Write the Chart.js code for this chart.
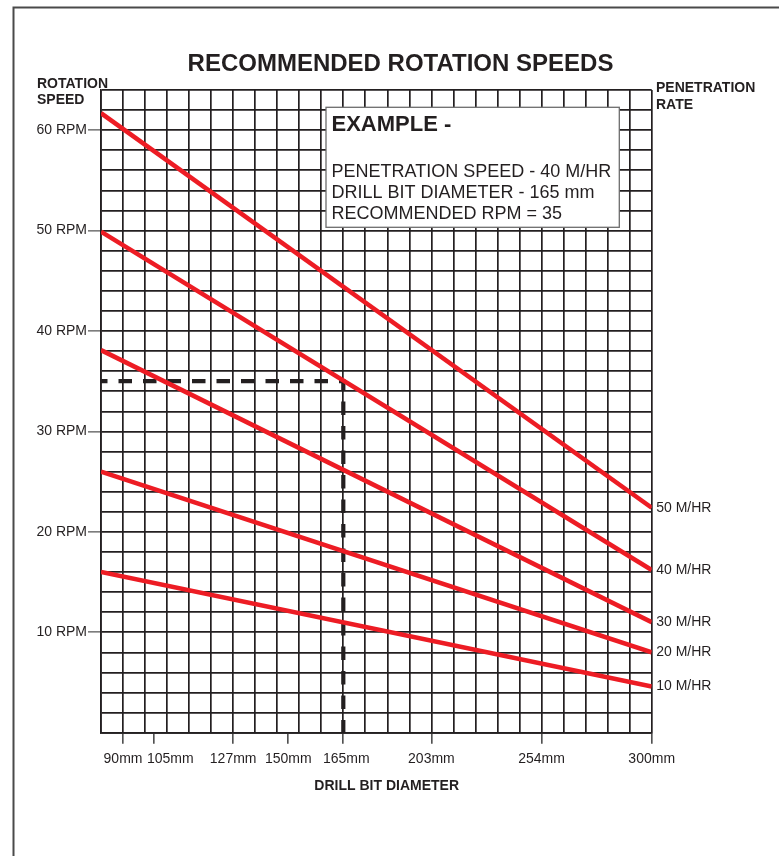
<!DOCTYPE html>
<html>
<head>
<meta charset="utf-8">
<title>Recommended Rotation Speeds</title>
<script src="https://cdn.jsdelivr.net/npm/chart.js@4.4.1/dist/chart.umd.min.js"></script>
<style>
  html, body { margin: 0; padding: 0; background: #fff; }
  canvas { display: block; }
</style>
</head>
<body>
<canvas id="chart" width="779" height="856"></canvas>
<script>
// penetration rate lines: RPM at the left edge of the grid and at 300mm
const rateLabels = ['50 M/HR', '40 M/HR', '30 M/HR', '20 M/HR', '10 M/HR'];
const rpmStart = [61.7, 49.9, 38.1, 26.0, 16.0];
const rpmEnd = [22.4, 16.2, 11.0, 8.0, 4.6];

// drill bit diameters and the grid column each one sits on (axis is not linear in mm)
const diameterLabels = ['90mm', '105mm', '127mm', '150mm', '165mm', '203mm', '254mm', '300mm'];
const diameterCols = [1, 2.42, 6, 8.5, 11, 15, 20, 25];
const gridCols = 25;

const rpmTicks = [10, 20, 30, 40, 50, 60];
const rpmMax = 64;

// worked example: 40 M/HR with a 165mm bit gives 35 RPM
const exampleRpm = 35;
const exampleDiameter = '165mm';
const exampleTitle = 'EXAMPLE -';
const exampleLines = ['PENETRATION SPEED - 40 M/HR', 'DRILL BIT DIAMETER - 165 mm', 'RECOMMENDED RPM = 35'];

const FONT = '"Liberation Sans", Arial, Helvetica, sans-serif';
const ink = '#231f20';
const red = '#ed1c24';

const exampleCol = diameterCols[diameterLabels.indexOf(exampleDiameter)];

// text, frame and the example box drawn on top of the chart
const decorations = {
    id: 'decorations',
    beforeDraw(chart) {
        const ctx = chart.ctx;
        ctx.save();
        ctx.fillStyle = '#fff';
        ctx.fillRect(0, 0, chart.width, chart.height);
        ctx.restore();
    },
    afterDraw(chart) {
        const { ctx, chartArea, scales } = chart;
        const x = scales.x, y = scales.y;
        ctx.save();

        // page frame (top and left edge only)
        ctx.strokeStyle = '#4a4a4a';
        ctx.lineWidth = 2;
        ctx.beginPath();
        ctx.moveTo(779, 7.5);
        ctx.lineTo(13.5, 7.5);
        ctx.lineTo(13.5, 856);
        ctx.stroke();

        ctx.fillStyle = ink;
        ctx.textBaseline = 'alphabetic';

        // title
        ctx.font = 'bold 24px ' + FONT;
        ctx.textAlign = 'center';
        ctx.fillText('RECOMMENDED ROTATION SPEEDS', 400.5, 71);

        // axis headings
        ctx.font = 'bold 14px ' + FONT;
        ctx.textAlign = 'left';
        ctx.fillText('ROTATION', 37, 87.5);
        ctx.fillText('SPEED', 37, 104);
        ctx.fillText('PENETRATION', 656, 92);
        ctx.fillText('RATE', 656, 108.5);

        ctx.textAlign = 'center';
        ctx.fillText('DRILL BIT DIAMETER', 386.7, 790);

        // diameter labels under the tick marks
        ctx.font = '14px ' + FONT;
        const nudge = { '105mm': 16, '165mm': 3 };
        diameterLabels.forEach((lab, i) => {
            const px = x.getPixelForValue(diameterCols[i]) + (nudge[lab] || 0);
            ctx.fillText(lab, px, 763);
        });

        // penetration rate labels at the line ends
        ctx.textAlign = 'left';
        ctx.textBaseline = 'middle';
        rateLabels.forEach((lab, i) => {
            ctx.fillText(lab, chartArea.right + 4.5, y.getPixelForValue(rpmEnd[i]));
        });

        // example box
        const bx = 326, by = 107.3, bw = 293.3, bh = 120;
        ctx.fillStyle = '#fff';
        ctx.fillRect(bx, by, bw, bh);
        ctx.strokeStyle = '#6d6d6d';
        ctx.lineWidth = 1.3;
        ctx.strokeRect(bx, by, bw, bh);

        ctx.fillStyle = ink;
        ctx.textBaseline = 'alphabetic';
        ctx.font = 'bold 22px ' + FONT;
        ctx.fillText(exampleTitle, bx + 5.5, by + 23.3);
        ctx.font = '18px ' + FONT;
        exampleLines.forEach((line, i) => {
            ctx.fillText(line, bx + 5.5, by + 69.3 + i * 21);
        });

        ctx.restore();
    }
};

const datasets = rateLabels.map((lab, i) => ({
    label: lab,
    data: [{ x: 0, y: rpmStart[i] }, { x: gridCols, y: rpmEnd[i] }],
    borderColor: red,
    borderWidth: 4.6,
    borderCapStyle: 'butt',
    pointRadius: 0,
    order: 1
}));

datasets.push({
    label: 'example',
    data: [{ x: 0, y: exampleRpm }, { x: exampleCol, y: exampleRpm }, { x: exampleCol, y: 0 }],
    borderColor: ink,
    borderWidth: 4.2,
    borderDash: [13.5, 11],
    borderDashOffset: 7,
    borderJoinStyle: 'miter',
    borderCapStyle: 'butt',
    pointRadius: 0,
    order: 2
});

new Chart(document.getElementById('chart'), {
    type: 'line',
    data: { datasets },
    options: {
        responsive: false,
        animation: false,
        layout: { padding: { left: 0, right: 127.3, top: 90, bottom: 0 } },
        plugins: { legend: { display: false }, title: { display: false }, tooltip: { enabled: false } },
        elements: { line: { tension: 0 } },
        scales: {
            x: {
                type: 'linear',
                min: 0,
                max: gridCols,
                afterBuildTicks: s => {
                    const vals = new Set(diameterCols);
                    for (let c = 0; c <= gridCols; c++) vals.add(c);
                    s.ticks = [...vals].sort((a, b) => a - b).map(v => ({ value: v }));
                },
                afterFit: s => { s.height = 123.3; },
                grid: {
                    color: c => (c.tick && Number.isInteger(c.tick.value)) ? ink : 'rgba(0,0,0,0)',
                    lineWidth: 1.7,
                    tickLength: 11,
                    tickColor: c => (c.tick && diameterCols.includes(c.tick.value)) ? '#333' : 'rgba(0,0,0,0)',
                    tickWidth: 1.4
                },
                border: { color: ink, width: 1.7 },
                ticks: { display: false }
            },
            y: {
                type: 'linear',
                min: 0,
                max: rpmMax,
                afterFit: s => { s.width = 101; },
                grid: {
                    color: ink,
                    lineWidth: 1.7,
                    tickLength: 13,
                    tickColor: c => (c.tick && rpmTicks.includes(c.tick.value)) ? '#666' : 'rgba(0,0,0,0)',
                    tickWidth: 1.4
                },
                border: { color: ink, width: 1.7 },
                ticks: {
                    stepSize: 2,
                    autoSkip: false,
                    padding: 1,
                    color: ink,
                    font: { family: FONT, size: 14 },
                    callback: v => rpmTicks.includes(v) ? v + ' RPM' : ''
                }
            }
        }
    },
    plugins: [decorations]
});
</script>
</body>
</html>
